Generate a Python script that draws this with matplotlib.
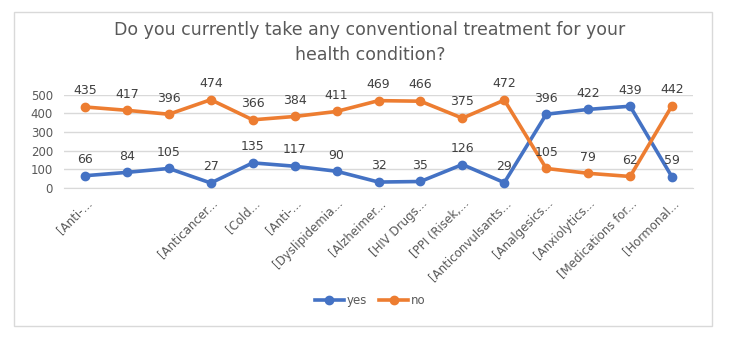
import matplotlib.pyplot as plt
from matplotlib.patches import Rectangle

# Categories (Excel truncated labels, two are blank in the original)
labels = ["[Anti-...", "", "", "[Anticancer...", "[Cold...", "[Anti-...",
          "[Dyslipidemia...", "[Alzheimer...", "[HIV Drugs...", "[PPI (Risek,...",
          "[Anticonvulsants...", "[Analgesics...", "[Anxiolytics...",
          "[Medications for...", "[Hormonal..."]
yes = [66, 84, 105, 27, 135, 117, 90, 32, 35, 126, 29, 396, 422, 439, 59]
no = [435, 417, 396, 474, 366, 384, 411, 469, 466, 375, 472, 105, 79, 62, 442]

blue = "#4472C4"
orange = "#ED7D31"
grey = "#595959"

fig = plt.figure(figsize=(7.4, 3.4), dpi=100)
fig.patch.set_facecolor("white")

# chart border
fig.patches.append(Rectangle((0.019, 0.041), 0.943, 0.924, transform=fig.transFigure,
                             fill=False, edgecolor="#D9D9D9", linewidth=1))

ax = fig.add_axes([0.0865, 0.447, 0.85, 0.274])
x = list(range(len(labels)))

ax.plot(x, yes, color=blue, lw=2.6, marker="o", ms=6, label="yes", zorder=3)
ax.plot(x, no, color=orange, lw=2.6, marker="o", ms=6, label="no", zorder=3)

for xi, v in zip(x, yes):
    ax.annotate(str(v), (xi, v), xytext=(0, 7), textcoords="offset points",
                ha="center", va="bottom", fontsize=9, color="#404040")
for xi, v in zip(x, no):
    ax.annotate(str(v), (xi, v), xytext=(0, 7), textcoords="offset points",
                ha="center", va="bottom", fontsize=9, color="#404040")

ax.set_xlim(-0.5, len(labels) - 0.5)
ax.set_ylim(0, 500)
ax.set_yticks([0, 100, 200, 300, 400, 500])
ax.grid(axis="y", color="#D9D9D9", lw=1)
ax.set_axisbelow(True)
for s in ["top", "right", "left"]:
    ax.spines[s].set_visible(False)
ax.spines["bottom"].set_color("#D9D9D9")
ax.tick_params(axis="both", length=0, labelsize=8.5, colors=grey)
ax.tick_params(axis="y", pad=8)
ax.set_xticks(x)
ax.set_xticklabels(labels, rotation=45, ha="right", rotation_mode="anchor")
ax.tick_params(axis="x", pad=6)

fig.text(0.5, 0.875, "Do you currently take any conventional treatment for your\nhealth condition?",
         ha="center", va="center", fontsize=12.5, color=grey, linespacing=1.5)

fig.legend(loc="center", bbox_to_anchor=(0.5, 0.117), ncol=2, frameon=False,
           fontsize=8.5, labelcolor=grey, handlelength=2.5, columnspacing=1.0,
           handletextpad=0.2)

fig.savefig("out.png", dpi=100)
